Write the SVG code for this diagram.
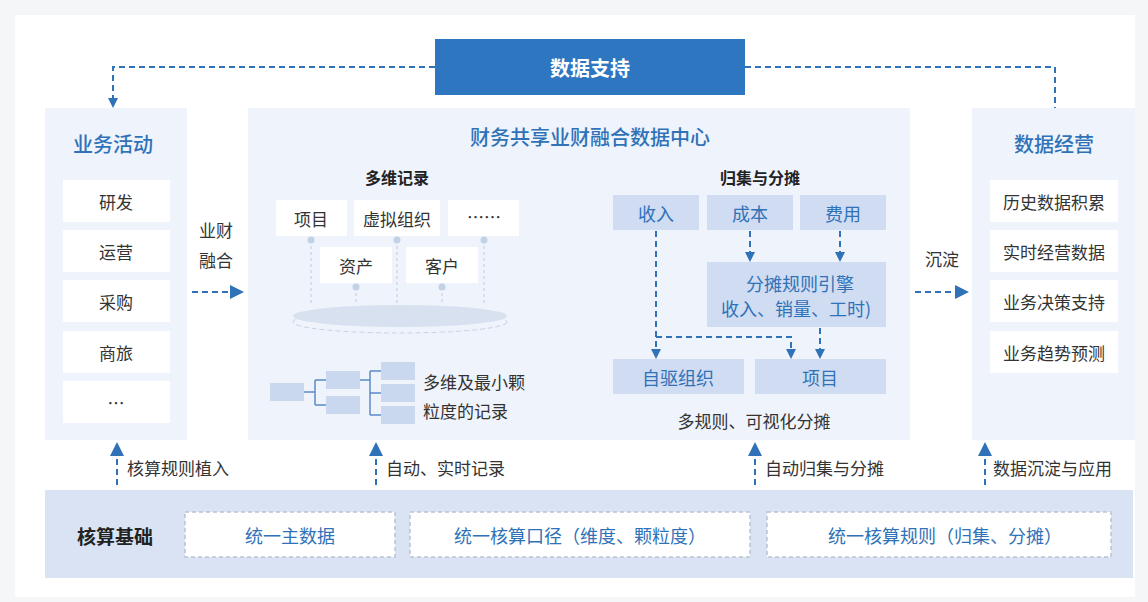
<svg xmlns="http://www.w3.org/2000/svg" width="1148" height="602" viewBox="0 0 1148 602">
<defs>
<marker id="ah" markerWidth="10" markerHeight="10" refX="8" refY="5" orient="auto" markerUnits="userSpaceOnUse"><path d="M0,0 L10,5 L0,10 Z" fill="#2f72b8"/></marker>
<marker id="ahb" markerWidth="14" markerHeight="14" refX="12" refY="7" orient="auto" markerUnits="userSpaceOnUse"><path d="M0,0 L14,7 L0,14 Z" fill="#2f72b8"/></marker>
</defs>
<style>
text{font-family:"Noto Sans CJK SC","Noto Sans",sans-serif;text-anchor:middle;dominant-baseline:central}
.panel{fill:#eef3fc}
.w{fill:#fff}
.it{font-size:17px;fill:#333}
.ttl{font-size:20px;fill:#2f72b8;font-weight:500}
.bl{font-size:18px;fill:#2f72b8}
.bx{fill:#cfdcf2}
.hd{font-size:16px;fill:#222;font-weight:700}
.lb{font-size:17px;fill:#333;text-anchor:start}
.dl{stroke:#2f72b8;stroke-width:2;stroke-dasharray:6 4;fill:none}
.pin{stroke:#c8d3e2;stroke-width:1.2;stroke-dasharray:3 3}
.db{fill:#fff;stroke:#b9c3d3;stroke-width:1.5;stroke-dasharray:4 3}
</style>
<rect width="1148" height="602" fill="#f5f6f8"/>
<rect x="15" y="15" width="1120" height="582" fill="#fff"/>
<g id="data-support"><rect x="435" y="39" width="310" height="56" fill="#2f76c0"/><text x="590" y="67" font-size="20" fill="#fff" font-weight="700">数据支持</text></g>
<g id="biz">
<rect class="panel" x="45" y="108" width="142" height="332"/>
<text class="ttl" x="113" y="143">业务活动</text>
<rect class="w" x="63" y="180" width="107" height="42"/><text class="it" x="116" y="201">研发</text>
<rect class="w" x="63" y="230" width="107" height="42"/><text class="it" x="116" y="251">运营</text>
<rect class="w" x="63" y="280" width="107" height="42"/><text class="it" x="116" y="301">采购</text>
<rect class="w" x="63" y="331" width="107" height="42"/><text class="it" x="116" y="352">商旅</text>
<rect class="w" x="63" y="381" width="107" height="42"/><text class="it" x="116" y="402">…</text>
</g>
<g id="fuse-label"><text class="it" x="216" y="229" font-size="18">业财</text><text class="it" x="216" y="259" font-size="18">融合</text></g>
<g id="center">
<rect class="panel" x="248" y="108" width="662" height="332"/>
<text class="ttl" x="590" y="136" font-size="19">财务共享业财融合数据中心</text>
<text class="hd" x="397" y="177">多维记录</text>
<line class="pin" x1="311" y1="240" x2="311" y2="305"/><line class="pin" x1="397" y1="240" x2="397" y2="305"/><line class="pin" x1="484" y1="240" x2="484" y2="305"/>
<line class="pin" x1="356" y1="287" x2="356" y2="305"/><line class="pin" x1="442" y1="287" x2="442" y2="305"/>
<g fill="#c3d1e6"><circle cx="311" cy="240" r="3.5"/><circle cx="397" cy="240" r="3.5"/><circle cx="484" cy="240" r="3.5"/><circle cx="356" cy="287" r="3.5"/><circle cx="442" cy="287" r="3.5"/></g>
<rect class="w" x="276" y="200" width="71" height="36"/><text class="it" x="311" y="218" font-size="16">项目</text>
<rect class="w" x="354" y="200" width="86" height="36"/><text class="it" x="397" y="218" font-size="16">虚拟组织</text>
<rect class="w" x="448" y="200" width="71" height="36"/><text class="it" x="484" y="216" font-size="14">……</text>
<rect class="w" x="320" y="247" width="72" height="36"/><text class="it" x="356" y="265" font-size="16">资产</text>
<rect class="w" x="406" y="247" width="72" height="36"/><text class="it" x="442" y="265" font-size="16">客户</text>
<ellipse cx="400" cy="322" rx="107" ry="11" fill="none" stroke="#c8d3e2" stroke-dasharray="5 3"/>
<ellipse cx="400" cy="316" rx="107" ry="11" fill="#d8e1ef"/>
<g fill="#cad8ef"><rect x="270" y="383" width="34" height="18"/><rect x="326" y="371" width="34" height="18"/><rect x="326" y="396" width="34" height="18"/><rect x="381" y="362" width="34" height="18"/><rect x="381" y="384" width="34" height="18"/><rect x="381" y="406" width="34" height="18"/></g>
<path d="M304,392 H315 M315,380 V405 M315,380 H326 M315,405 H326 M360,380 H370 M370,371 V415 M370,371 H381 M370,393 H381 M370,415 H381" stroke="#5b8cc8" stroke-width="1.5" fill="none"/>
<text class="lb" x="423" y="381">多维及最小颗</text><text class="lb" x="423" y="410">粒度的记录</text>
<text class="hd" x="760" y="177">归集与分摊</text>
<rect class="bx" x="613" y="195" width="86" height="35"/><text class="bl" x="656" y="213">收入</text>
<rect class="bx" x="707" y="195" width="86" height="35"/><text class="bl" x="750" y="213">成本</text>
<rect class="bx" x="800" y="195" width="86" height="35"/><text class="bl" x="843" y="213">费用</text>
<rect class="bx" x="707" y="262" width="179" height="65"/><text class="bl" x="800" y="283">分摊规则引擎</text><text class="bl" x="796" y="308">收入、销量、工时)</text>
<rect class="bx" x="613" y="359" width="131" height="35"/><text class="bl" x="678" y="377">自驱组织</text>
<rect class="bx" x="755" y="359" width="131" height="35"/><text class="bl" x="820" y="377">项目</text>
<text class="it" x="754" y="420" font-size="16">多规则、可视化分摊</text>
</g>
<g id="settle-label"><text class="it" x="942" y="258" font-size="18">沉淀</text></g>
<g id="ops">
<rect class="panel" x="972" y="108" width="163" height="332"/>
<text class="ttl" x="1054" y="143">数据经营</text>
<rect class="w" x="990" y="180" width="128" height="42"/><text class="it" x="1054" y="201" font-size="16">历史数据积累</text>
<rect class="w" x="990" y="230" width="128" height="42"/><text class="it" x="1054" y="251" font-size="16">实时经营数据</text>
<rect class="w" x="990" y="280" width="128" height="42"/><text class="it" x="1054" y="301" font-size="16">业务决策支持</text>
<rect class="w" x="990" y="331" width="128" height="42"/><text class="it" x="1054" y="352" font-size="16">业务趋势预测</text>
</g>
<g id="up-labels">
<text class="lb" x="127" y="467">核算规则植入</text>
<text class="lb" x="386" y="467">自动、实时记录</text>
<text class="lb" x="765" y="467">自动归集与分摊</text>
<text class="lb" x="993" y="467">数据沉淀与应用</text>
</g>
<g id="foundation">
<rect x="45" y="490" width="1088" height="88" fill="#d9e3f3"/>
<text x="115" y="535" font-size="19" font-weight="700" fill="#222">核算基础</text>
<rect class="db" x="185" y="512" width="210" height="45"/><text class="bl" x="290" y="535" font-size="20">统一主数据</text>
<rect class="db" x="410" y="512" width="340" height="45"/><text class="bl" x="580" y="535" font-size="20">统一核算口径（维度、颗粒度）</text>
<rect class="db" x="767" y="512" width="344" height="45"/><text class="bl" x="945" y="535" font-size="20">统一核算规则（归集、分摊）</text>
</g>
<g id="connectors">
<path class="dl" d="M435,67 H113 V106" marker-end="url(#ah)"/>
<path class="dl" d="M745,67 H1055 V108"/>
<path class="dl" d="M192,292 H242" marker-end="url(#ahb)"/>
<path class="dl" d="M915,292 H967" marker-end="url(#ahb)"/>
<path class="dl" d="M656,231 V357" marker-end="url(#ah)"/>
<path class="dl" d="M656,337 H791 V357" marker-end="url(#ah)"/>
<path class="dl" d="M750,231 V260" marker-end="url(#ah)"/>
<path class="dl" d="M840,231 V260" marker-end="url(#ah)"/>
<path class="dl" d="M820,328 V357" marker-end="url(#ah)"/>
<path class="dl" d="M117,485 V444" marker-end="url(#ahb)"/>
<path class="dl" d="M376,485 V444" marker-end="url(#ahb)"/>
<path class="dl" d="M755,485 V444" marker-end="url(#ahb)"/>
<path class="dl" d="M985,485 V444" marker-end="url(#ahb)"/>
</g>
</svg>
